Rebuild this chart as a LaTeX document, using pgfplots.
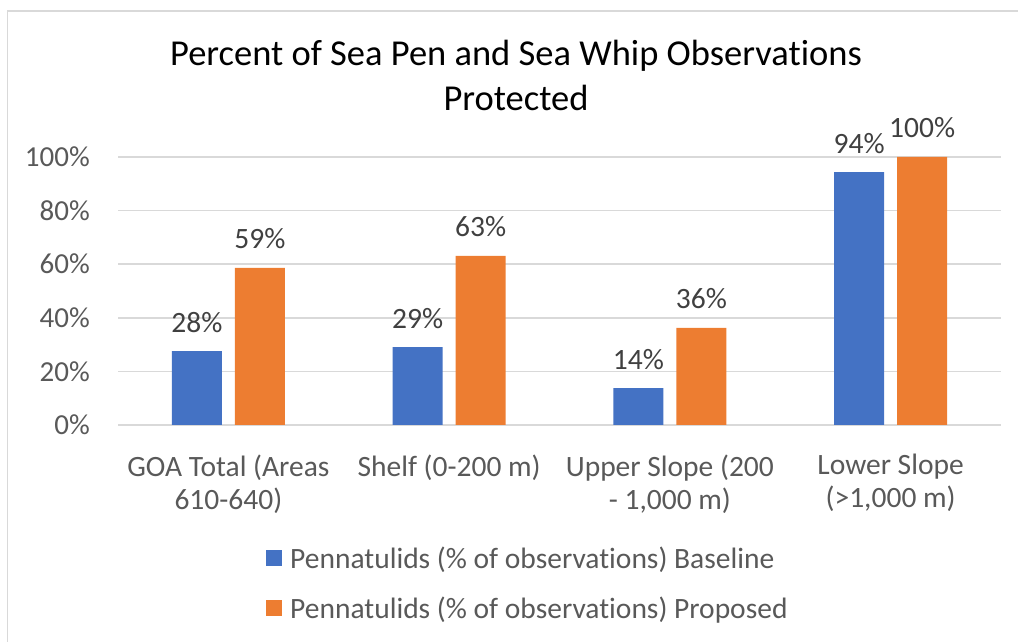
\documentclass[border=0pt]{standalone}
\usepackage{fontspec}
\setmainfont{Carlito}
\usepackage{pgfplots}
\pgfplotsset{compat=1.18}
\definecolor{cblue}{HTML}{4472C4}
\definecolor{corange}{HTML}{ED7D31}
\definecolor{tickgray}{HTML}{595959}
\definecolor{lblgray}{HTML}{404040}
\definecolor{gridgray}{HTML}{D9D9D9}
\newcommand{\ti}{t\kern0pt i}
\begin{document}
\begin{tikzpicture}[x=1pt,y=1pt]
\useasboundingbox (0,0) rectangle (1018,642);
\draw[gridgray, line width=1.5pt] (7.5,-2) -- (7.5,631) -- (1020,631);
\node[align=center, font=\fontsize{36.5}{45}\selectfont, text=black] at (516,567) {Percent of Sea Pen and Sea Whip Observa\ti ons\\Protected};
\begin{axis}[
  at={(118pt,217pt)}, anchor=south west,
  scale only axis, width=883pt, height=268pt,
  xmin=-0.5, xmax=3.5, ymin=0, ymax=100,
  /pgf/number format/assume math mode=true,
  axis line style={draw=none},
  tick style={draw=none},
  ymajorgrids, grid style={gridgray, line width=1.5pt},
  ytick={0,20,40,60,80,100},
  yticklabels={0\%,20\%,40\%,60\%,80\%,100\%},
  yticklabel style={font=\fontsize{29}{33}\selectfont, text=tickgray, anchor=east, inner sep=0pt, xshift=-28pt},
  xtick={0,1,2,3},
  xticklabels={{GOA Total (Areas\\610-640)},{Shelf (0-200 m)},{Upper Slope (200\\- 1,000 m)},{Lower Slope\\(>1,000 m)}},
  xticklabel style={align=center, font=\fontsize{29.5}{33}\selectfont, text=tickgray, anchor=north, inner sep=0pt, yshift=-25pt},
  ybar, bar width=0.2265,
  clip=false,
  nodes near coords={\pgfmathprintnumber[fixed,precision=0]{\pgfplotspointmeta}\%},
  every node near coord/.append style={font=\fontsize{29.5}{33}\selectfont, text=lblgray, anchor=base, inner sep=0pt, yshift=19pt},
  legend columns=1,
  legend cell align=left,
  legend image code/.code={\fill[#1] (0pt,-8pt) rectangle (16pt,8pt);},
  legend style={at={(axis description cs:0.1642,-0.445)}, anchor=north west, draw=none, fill=none,
    font=\fontsize{29.5}{33}\selectfont, text=tickgray, column sep=8pt, row sep=27pt,
    nodes={inner sep=0pt}},
]
\addplot[fill=cblue, draw=none, bar shift=-0.1427] coordinates {(0,27.6) (1,29.1) (2,13.8) (3,94.4)};
\addlegendentry{Pennatulids (\% of observa\ti ons) Baseline}
\addplot[fill=corange, draw=none, bar shift=0.1427] coordinates {(0,58.6) (1,63.1) (2,36.2) (3,100)};
\addlegendentry{Pennatulids (\% of observa\ti ons) Proposed}
\end{axis}
\end{tikzpicture}
\end{document}
